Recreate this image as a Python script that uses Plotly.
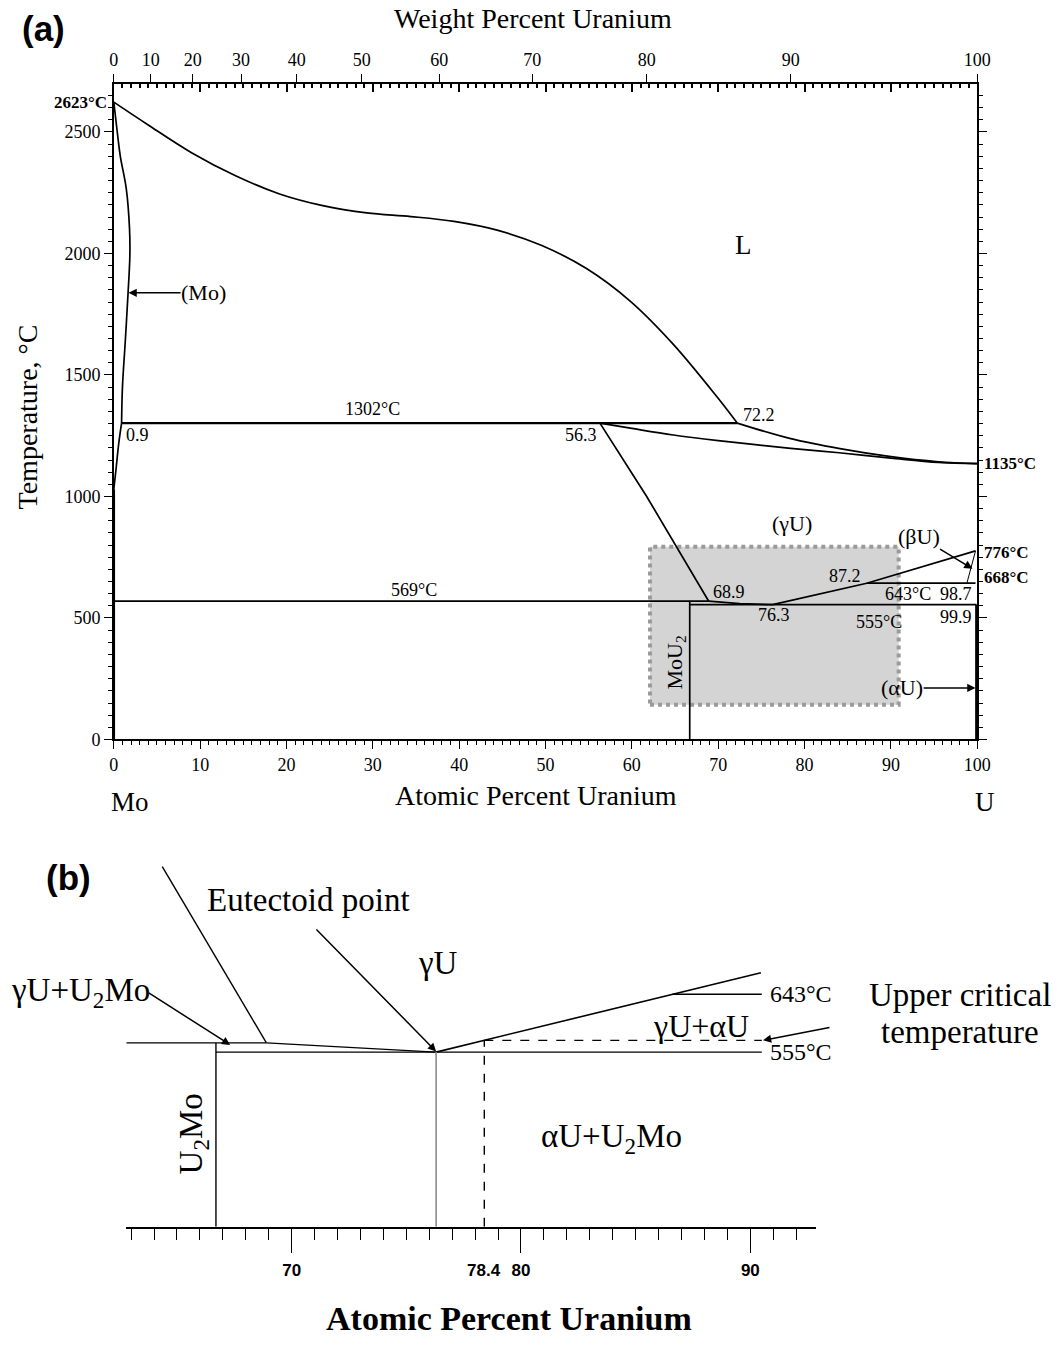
import plotly.graph_objects as go

# ---------------- data: panel (a) Mo-U phase diagram ----------------
liq_x = [0, 3.9, 9.0, 14.1, 19.2, 24.2, 29.3, 34.4, 39.4, 44.5, 49.5, 54.7, 59.8, 64.8, 69.9, 72.2]
liq_t = [2623, 2531, 2415, 2320, 2245, 2197, 2167, 2152, 2132, 2095, 2034, 1939, 1804, 1626, 1408, 1302]
liq2_x = [72.2, 78.4, 84.1, 89.8, 95.5, 100]
liq2_t = [1302, 1238, 1197, 1165, 1143, 1135]
solg_x = [56.3, 60, 64.8, 70, 78.4, 84, 90, 95.5, 100]
solg_t = [1302, 1280, 1253, 1230, 1198, 1180, 1158, 1140, 1135]
mo_sol_x = [0, 0.4, 0.75, 1.45, 1.82, 1.86, 1.65, 1.33, 1.0, 0.9]
mo_sol_t = [2623, 2500, 2401, 2265, 2102, 1993, 1837, 1640, 1449, 1302]
mo_solv_x = [0.9, 0.57, 0.25, 0]
mo_solv_t = [1302, 1218, 1110, 1030]
peri_x = [0.9, 72.2]
peri_t = [1302, 1302]
gsolv_x = [56.3, 61.7, 68.9]
gsolv_t = [1302, 1001, 569]
mono_x = [0, 68.9]
mono_t = [569, 569]
eut_x = [68.9, 72.5, 76.3]
eut_t = [569, 559, 555]
eutd_x = [66.7, 99.9]
eutd_t = [555, 555]
mou2_x = [66.7, 66.7]
mou2_t = [0, 569]
gab_x = [76.3, 87.2, 99.8]
gab_t = [555, 643, 776]
l643_x = [87.2, 99.8]
l643_t = [643, 643]
beta_x = [98.8, 99.8]
beta_t = [643, 776]
alpha_x = [99.9, 99.9]
alpha_t = [0, 555]
left_x = [0, 0]
left_t = [0, 1030]
box_x = [62.1, 90.9]
box_t = [143, 793]

wt_labels = [0, 10, 20, 30, 40, 50, 60, 70, 80, 90, 100]
M_U, M_MO = 238.03, 95.95


def wt_to_at(w):
    if w <= 0:
        return 0.0
    if w >= 100:
        return 100.0
    nu = w / M_U
    nm = (100 - w) / M_MO
    return 100 * nu / (nu + nm)


wt_pos = [wt_to_at(w) for w in wt_labels]

# ---------------- data: panel (b) schematic ----------------
b_solv_x = [64.36, 68.9]
b_solv_t = [837, 569]
b_569_x = [62.8, 68.9]
b_569_t = [569, 569]
b_eut_x = [68.9, 76.3]
b_eut_t = [569, 555]
b_555_x = [66.7, 90.5]
b_555_t = [555, 555]
b_u2mo_x = [66.7, 66.7]
b_u2mo_t = [289.5, 569]
b_gam_x = [76.3, 90.46]
b_gam_t = [555, 675.7]
b_643_x = [86.6, 90.5]
b_643_t = [643, 643]
b_ev_x = [76.3, 76.3]
b_ev_t = [289.5, 555]
b_dv_x = [78.4, 78.4]
b_dv_t = [289.5, 572.9]
b_dh_x = [78.4, 90.5]
b_dh_t = [572.9, 572.9]
b_ticks = [70, 80, 90]

SERIF = "Liberation Serif"
SANS = "Liberation Sans"
W, H = 1064, 1345


def px(x):
    return x / W


def py(y):
    return 1 - y / H


fig = go.Figure()

LW = 1.7
for xs, ts, w in [
    (liq_x, liq_t, LW), (liq2_x, liq2_t, LW), (solg_x, solg_t, LW),
    (mo_sol_x, mo_sol_t, LW), (mo_solv_x, mo_solv_t, LW), (peri_x, peri_t, 2.3),
    (gsolv_x, gsolv_t, LW), (mono_x, mono_t, LW), (eut_x, eut_t, LW),
    (eutd_x, eutd_t, LW), (mou2_x, mou2_t, LW), (gab_x, gab_t, LW),
    (l643_x, l643_t, LW), (beta_x, beta_t, 1.0), (alpha_x, alpha_t, 2.5),
    (left_x, left_t, 2.5),
]:
    fig.add_trace(go.Scatter(x=xs, y=ts, mode="lines", line=dict(color="black", width=w),
                             line_shape="spline" if len(xs) > 3 else "linear",
                             showlegend=False, hoverinfo="skip", xaxis="x", yaxis="y"))

# dummy traces to register the overlay axes
fig.add_trace(go.Scatter(x=[None], y=[None], xaxis="x2", yaxis="y", showlegend=False))
fig.add_trace(go.Scatter(x=[None], y=[None], xaxis="x3", yaxis="y", showlegend=False))
fig.add_trace(go.Scatter(x=[None], y=[None], xaxis="x", yaxis="y2", showlegend=False))

# panel b lines
for xs, ts, col, dash, w in [
    (b_solv_x, b_solv_t, "black", "solid", 1.4), (b_569_x, b_569_t, "black", "solid", 1.4),
    (b_eut_x, b_eut_t, "black", "solid", 1.4), (b_555_x, b_555_t, "black", "solid", 1.4),
    (b_u2mo_x, b_u2mo_t, "black", "solid", 1.4), (b_gam_x, b_gam_t, "black", "solid", 1.6),
    (b_643_x, b_643_t, "black", "solid", 1.4), (b_ev_x, b_ev_t, "#8a8a8a", "solid", 1.6),
    (b_dv_x, b_dv_t, "black", "dash", 1.4), (b_dh_x, b_dh_t, "black", "dash", 1.4),
]:
    fig.add_trace(go.Scatter(x=xs, y=ts, mode="lines", line=dict(color=col, width=w, dash=dash),
                             showlegend=False, hoverinfo="skip", xaxis="x4", yaxis="y3"))

# grey dotted box
fig.add_shape(type="rect", xref="x", yref="y", x0=box_x[0], x1=box_x[1], y0=box_t[0], y1=box_t[1],
              fillcolor="#d4d4d4", line=dict(color="#9a9a9a", width=4, dash="dot"), layer="below")

ann = []


def txt(x, y, s, size, xref="x", yref="y", bold=False, family=SERIF, xanchor="center",
        yanchor="middle", angle=0):
    ann.append(dict(x=x, y=y, text=s, xref=xref, yref=yref, showarrow=False,
                    xanchor=xanchor, yanchor=yanchor, textangle=angle,
                    font=dict(family=family, size=size, color="black",
                              weight="bold" if bold else "normal")))


def arrow(x, y, ax, ay, xref="x", yref="y", axref=None, ayref=None, size=1.1, text="", fsize=22):
    ann.append(dict(x=x, y=y, ax=ax, ay=ay, xref=xref, yref=yref,
                    axref=axref or xref, ayref=ayref or yref, text=text, showarrow=True,
                    arrowhead=2, arrowsize=size, arrowwidth=1.5, arrowcolor="black", standoff=0,
                    borderpad=0, font=dict(family=SERIF, size=fsize, color="black")))


# panel (a) labels
IN = 18
txt(72.9, 2034, "L", 27)
arrow(1.7, 1838, 10.4, 1838, text="(Mo)")
txt(30.0, 1360, "1302°C", IN)
txt(2.7, 1254, "0.9", IN)
txt(54.1, 1254, "56.3", IN)
txt(74.7, 1336, "72.2", IN)
txt(78.5, 890, "(γU)", 22)
arrow(99.45, 703, 93.2, 837, text="(βU)")
txt(84.7, 674, "87.2", IN)
txt(71.3, 605, "68.9", IN)
txt(92.0, 600, "643°C", IN)
txt(97.5, 600, "98.7", IN)
txt(34.8, 617, "569°C", IN)
txt(76.5, 511, "76.3", IN)
txt(88.6, 482, "555°C", IN)
txt(97.5, 502, "99.9", IN)
txt(65.06, 315, "MoU<sub>2</sub>", 22, angle=-90)
arrow(99.8, 212, 91.3, 212, text="(αU)")

txt(px(107), py(103), "2623°C", 17, "paper", "paper", bold=True, xanchor="right")
txt(px(995), py(467), "1135°C", 17, "paper", "paper", bold=True, xanchor="left")
txt(px(995), py(557), "776°C", 17, "paper", "paper", bold=True, xanchor="left")
txt(px(995), py(582), "668°C", 17, "paper", "paper", bold=True, xanchor="left")

txt(px(538), py(19), "Weight Percent Uranium", 28, "paper", "paper")
txt(px(541), py(801), "Atomic Percent Uranium", 28, "paper", "paper")
txt(px(128), py(808), "Mo", 27, "paper", "paper")
txt(px(998), py(808), "U", 27, "paper", "paper")
txt(px(24), py(420), "Temperature, °C", 28, "paper", "paper", angle=-90)
txt(px(40), py(29), "(a)", 35, "paper", "paper", bold=True, family=SANS)

# panel (b) labels
txt(px(66), py(884), "(b)", 35, "paper", "paper", bold=True, family=SANS)
txt(70.75, 786, "Eutectoid point", 33, "x4", "y3")
arrow(76.3, 556, 71.06, 742, "x4", "y3")
txt(76.36, 691, "γU", 33, "x4", "y3")
txt(px(78), py(1000), "γU+U<sub>2</sub>Mo", 33, "paper", "paper")
arrow(67.32, 566, 63.75, 645.5, "x4", "y3")
txt(90.77, 643, "643°C", 24, "x4", "y3", xanchor="left")
txt(90.77, 555, "555°C", 24, "x4", "y3", xanchor="left")
txt(87.83, 594, "γU+αU", 32, "x4", "y3")
txt(px(972), py(1002), "Upper critical", 33, "paper", "paper")
txt(px(972), py(1040), "temperature", 33, "paper", "paper")
arrow(90.55, 572.9, 67, -13, "x4", "y3", axref="pixel", ayref="pixel")
txt(65.7, 430, "U<sub>2</sub>Mo", 33, "x4", "y3", angle=-90)
txt(83.95, 424, "αU+U<sub>2</sub>Mo", 33, "x4", "y3")
txt(78.4, py(1280), "78.4", 17, "x4", "paper", bold=True, family=SANS)
txt(px(514), py(1328), "Atomic Percent Uranium", 34, "paper", "paper", bold=True)

tickfont = dict(family=SERIF, size=18, color="black")

fig.update_layout(
    width=W, height=H, margin=dict(l=0, r=0, t=0, b=0),
    paper_bgcolor="white", plot_bgcolor="rgba(0,0,0,0)", showlegend=False,
    annotations=ann,
    xaxis=dict(domain=[111.7 / W, 990 / W], range=[0, 100], anchor="y",
               showline=True, linecolor="black", linewidth=1.5, mirror=False,
               ticks="outside", tickvals=list(range(0, 101, 10)), ticklen=8, tickwidth=1.3,
               tickcolor="black", minor=dict(dtick=1, ticklen=4, ticks="outside", tickcolor="black"),
               tickfont=tickfont, showgrid=False, zeroline=False),
    xaxis2=dict(overlaying="x", side="top", anchor="y", range=[0, 100],
                showline=True, linecolor="black", linewidth=1.5,
                tickmode="array", tickvals=wt_pos, ticktext=[str(w) for w in wt_labels],
                ticks="outside", ticklen=9, tickwidth=1.3, tickcolor="black",
                tickfont=tickfont, showgrid=False, zeroline=False),
    xaxis3=dict(overlaying="x", side="top", anchor="y", range=[0, 100],
                showline=False, ticks="inside", tick0=0, dtick=10, ticklen=8, tickwidth=1.5,
                tickcolor="black", minor=dict(dtick=1, ticklen=4, ticks="inside", tickcolor="black"),
                showticklabels=False, showgrid=False, zeroline=False),
    yaxis=dict(domain=[1 - 745 / H, 1 - 85 / H], range=[0, 2696], anchor="x",
               showline=True, linecolor="black", linewidth=1.5,
               ticks="outside", tick0=0, dtick=500, ticklen=8, tickwidth=1.3, tickcolor="black",
               minor=dict(dtick=50, ticklen=4, ticks="outside", tickcolor="black"),
               tickfont=tickfont, showgrid=False, zeroline=False),
    yaxis2=dict(overlaying="y", side="right", anchor="x", range=[0, 2696],
                showline=True, linecolor="black", linewidth=1.5,
                ticks="outside", tick0=0, dtick=500, ticklen=8, tickwidth=1.3, tickcolor="black",
                minor=dict(dtick=50, ticklen=4, ticks="outside", tickcolor="black"),
                showticklabels=False, showgrid=False, zeroline=False),
    xaxis4=dict(domain=[124 / W, 826 / W], range=[62.774, 92.864], anchor="y3",
                showline=True, linecolor="black", linewidth=1.5,
                ticks="outside", tickvals=b_ticks, ticklen=24, tickwidth=1.3, tickcolor="black",
                minor=dict(dtick=1, tick0=0, ticklen=11, ticks="outside", tickcolor="black"),
                tickfont=dict(family=SANS, size=17, color="black", weight="bold"),
                ticklabelstandoff=3, showgrid=False, zeroline=False),
    yaxis3=dict(domain=[1 - 1236 / H, 1 - 860 / H], range=[289.5, 856.7], anchor="x4",
                visible=False, showgrid=False, zeroline=False),
)

fig.write_html("out.html")
